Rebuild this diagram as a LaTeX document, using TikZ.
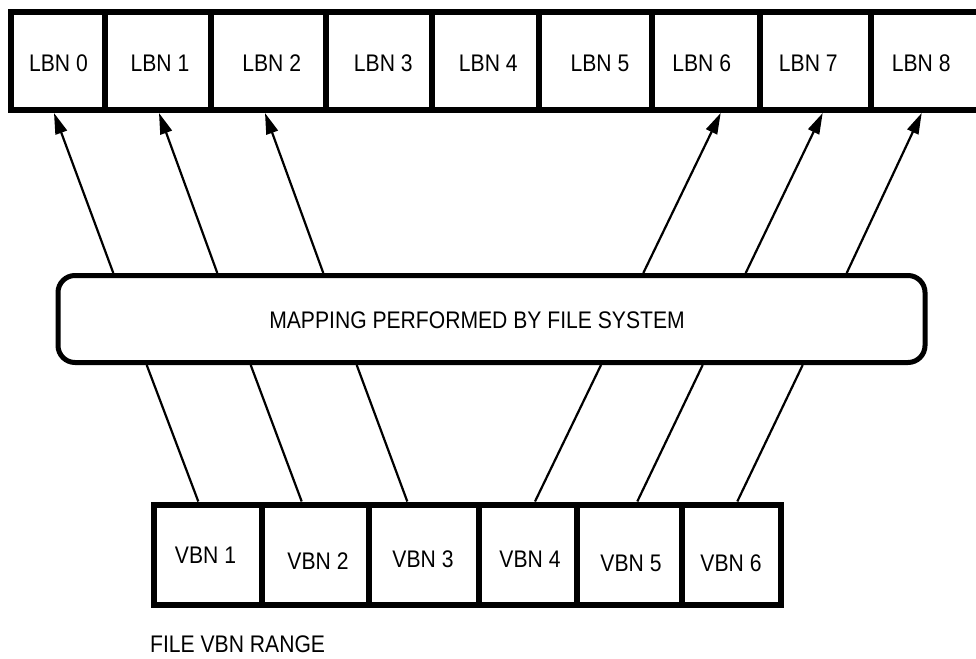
\documentclass[tikz,border=0pt]{standalone}
\usepackage{fontspec}
\setmainfont[FakeStretch=0.88]{Liberation Sans}
\usetikzlibrary{arrows.meta}
\begin{document}
\begin{tikzpicture}[x=1pt,y=-1pt,
  cell/.style={draw, line width=6pt, inner sep=0pt, rectangle},
  lbl/.style={inner sep=0pt, anchor=base, font=\fontsize{24}{28}\selectfont},
  mapbox/.style={draw, line width=5pt, rounded corners=17pt, inner sep=0pt,
                 minimum width=867pt, minimum height=87pt},
  arr/.style={line width=2.2pt, -{Triangle[length=21pt,width=12pt]}},
  link/.style={line width=2.2pt}]
\fill[white] (0,0) rectangle (976,658);
\useasboundingbox (0,0) rectangle (976,658);
% LBN row
\foreach \a/\b/\n in {10.5/104.5/0, 104.5/211/1, 211/326/2, 326/432/3, 432/538.5/4,
                      538.5/652/5, 652/759.5/6, 759.5/871/7, 871/990/8}
  \node[cell, minimum width={\b-\a}, minimum height=98] (l\n) at ({(\a+\b)/2},61) {};
\foreach \x/\n in {58.5/0, 160/1, 271.7/2, 383.3/3, 488.3/4, 600/5, 701.7/6, 808.3/7, 921.2/8}
  \node[lbl] (tl\n) at (\x,72) {LBN \n};
% mapping box
\node[mapbox] (map) at (491.5,319) {};
\node[lbl] (tmap) at (477,328.3) {MAPPING PERFORMED BY FILE SYSTEM};
% VBN row
\foreach \a/\b/\n in {154/262/1, 262/369/2, 369/479/3, 479/576.7/4, 576.7/682/5, 682/781/6}
  \node[cell, minimum width={\b-\a}, minimum height=100.5] (v\n) at ({(\a+\b)/2},554.75) {};
\foreach \x/\y/\n in {205.5/563/1, 318/569/2, 423/567/3, 530/567/4, 631/571/5, 731/571/6}
  \node[lbl] (tv\n) at (\x,\y) {VBN \n};
\node[lbl, anchor=base west] (range) at (150,652) {FILE VBN RANGE};
% arrows up
\draw[arr] (map.north -| 113.3,0) -- (l0.south -| 54,0);
\draw[arr] (map.north -| 217.3,0) -- (l1.south -| 159,0);
\draw[arr] (map.north -| 323.3,0) -- (l2.south -| 265,0);
\draw[arr] (map.north -| 643.3,0) -- (l6.south -| 720.7,0);
\draw[arr] (map.north -| 745.7,0) -- (l7.south -| 822.7,0);
\draw[arr] (map.north -| 846.7,0) -- (l8.south -| 921.7,0);
% links down
\draw[link] (map.south -| 146.7,0) -- (v1.north -| 198.3,0);
\draw[link] (map.south -| 250.7,0) -- (v2.north -| 301.7,0);
\draw[link] (map.south -| 356.7,0) -- (v3.north -| 407.3,0);
\draw[link] (map.south -| 601,0) -- (v4.north -| 535,0);
\draw[link] (map.south -| 702.7,0) -- (v5.north -| 637.3,0);
\draw[link] (map.south -| 802.7,0) -- (v6.north -| 737.3,0);
\end{tikzpicture}
\end{document}
